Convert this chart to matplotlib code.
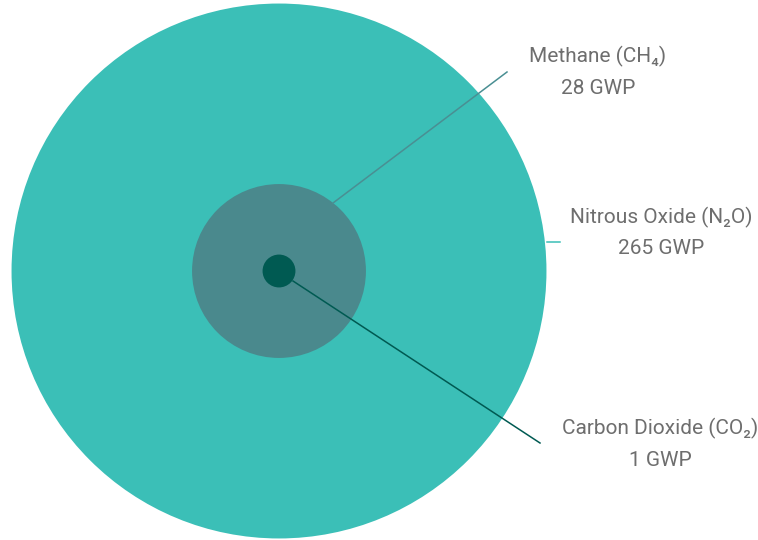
import numpy as np
import matplotlib
matplotlib.use("Agg")
import matplotlib.pyplot as plt
from matplotlib.patches import Circle
from matplotlib import font_manager

# gases, largest first so the small ones are drawn on top
names = ["Nitrous Oxide (N\u2082O)", "Methane (CH\u2084)", "Carbon Dioxide (CO\u2082)"]
gwp = [265, 28, 1]
colors = ["#3bbfb7", "#4a898d", "#005a52"]
line_colors = ["#3bbfb7", "#4a8f93", "#005a52"]

installed = {f.name for f in font_manager.fontManager.ttflist}
fam = ["Liberation Sans Narrow", "Roboto", "DejaVu Sans"]
fam = [f for f in fam if f in installed] + ["DejaVu Sans"]
plt.rcParams["font.family"] = fam
print(fam)

fig = plt.figure(figsize=(7.58, 5.40), dpi=100)
ax = fig.add_axes([0, 0, 1, 1])
ax.set_xlim(0, 758)
ax.set_ylim(540, 0)
ax.set_aspect("equal")
ax.axis("off")

cx, cy = 279, 271
scale = 16.43  # px per sqrt(GWP), circle area ~ GWP

for g, c in zip(gwp, colors):
    ax.add_patch(Circle((cx, cy), scale * np.sqrt(g), color=c, lw=0))

# leader lines (start point on circle, end point near label)
leaders = [((547, 242), (560, 242)),
           ((333, 203), (507, 72)),
           ((293, 281), (540, 443))]
labels_xy = [(661, 217), (598, 56), (660, 428)]

fs = 16.5 if fam[0] == "Liberation Sans Narrow" else 15
for (p0, p1), lc, (tx, ty), n, g in zip(leaders, line_colors, labels_xy, names, gwp):
    ax.plot([p0[0], p1[0]], [p0[1], p1[1]], color=lc, lw=1.1)
    ax.text(tx, ty, n, ha="center", va="center", fontsize=fs, color="#6e6e6e")
    ax.text(tx, ty + 32, f"{g} GWP", ha="center", va="center", fontsize=fs,
            color="#6e6e6e")

fig.savefig("out.png", dpi=100)
